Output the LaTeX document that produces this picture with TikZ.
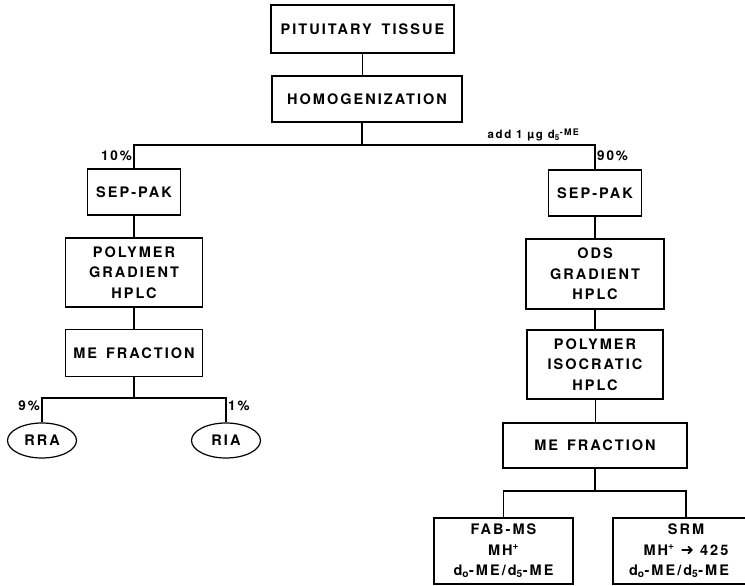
\documentclass[tikz,border=0pt]{standalone}
\usepackage{amsmath}
\usepackage{fontspec}
\setmainfont[LetterSpace=14]{TeX Gyre Heros}
\newfontfamily\dejavu{DejaVu Sans}
\usepackage{tikz}
\usetikzlibrary{positioning,shapes.geometric}

\begin{document}
\begin{tikzpicture}[x=1pt, y=-1pt,
  box/.style={draw, line width=1.2pt, inner sep=0pt, align=center, font=\fontsize{14.5}{20.5}\selectfont\bfseries},
  oval/.style={draw, ellipse, line width=1.2pt, inner sep=0pt, minimum width=69pt, minimum height=35pt, font=\fontsize{14.5}{15}\selectfont\bfseries},
  pct/.style={inner sep=1pt, font=\fontsize{13.5}{14}\selectfont\bfseries},
  conn/.style={line width=1.2pt}
]
\useasboundingbox (0,0) rectangle (745,586);
% top
\node[box, minimum width=183pt, minimum height=48pt] (tissue) at (362.5,29) {PITUITARY\hspace{10pt}TISSUE};
\node[box, minimum width=190pt, minimum height=46pt] (homog) at (367,99) {HOMOGENIZATION};
\coordinate (split) at (362,145);
% left branch
\node[box, minimum width=93pt, minimum height=46pt] (seppakL) at (134,192) {SEP-PAK};
\node[box, minimum width=137pt, minimum height=69pt] (polygrad) at (134,272.5) {POLYMER\\GRADIENT\\HPLC};
\node[box, minimum width=137pt, minimum height=47pt] (mefracL) at (134,353) {ME\hspace{3pt} FRACTION};
\coordinate (splitL) at (134,398);
\node[oval] (rra) at (42,440.5) {RRA};
\node[oval] (ria) at (226,440.5) {RIA};
% right branch
\node[box, minimum width=93pt, minimum height=46pt] (seppakR) at (595,193) {SEP-PAK};
\node[box, minimum width=138pt, minimum height=70pt] (odsgrad) at (595,274) {ODS\\GRADIENT\\HPLC};
\node[box, minimum width=136pt, minimum height=69pt] (polyiso) at (595,364.5) {POLYMER\\ISOCRATIC\\HPLC};
\node[box, minimum width=184pt, minimum height=45pt] (mefracR) at (595,445.5) {ME\hspace{3pt} FRACTION};
\coordinate (splitR) at (595,491);
\node[box, minimum width=139pt, minimum height=66pt] (fabms) at (503.5,551) {FAB-MS\\MH\textsuperscript{+}\\d\textsubscript{o}-ME/d\textsubscript{5}-ME};
\node[box, minimum width=146pt, minimum height=66pt] (srm) at (686,551) {SRM\\MH\textsuperscript{+} {\dejavu\bfseries\fontsize{16}{16}\selectfont ➜} 425\\d\textsubscript{o}-ME/d\textsubscript{5}-ME\hspace*{14pt}};

% connectors
\draw[conn] (tissue) -- (tissue |- homog.north);
\draw[conn] (split |- homog.south) -- (split);
\draw[conn] (seppakL.north) |- (split) -| (seppakR.north);
\draw[conn] (seppakL) -- (polygrad);
\draw[conn] (polygrad) -- (mefracL);
\draw[conn] (mefracL) -- (splitL);
\draw[conn] (rra.north) |- (splitL) -| (ria.north);
\draw[conn] (seppakR) -- (odsgrad);
\draw[conn] (odsgrad) -- (polyiso);
\draw[conn, line width=0.6pt] (polyiso) -- (mefracR);
\draw[conn] (mefracR) -- (splitR);
\draw[conn] (fabms.north) |- (splitR) -| (srm.north);

% labels
\node[pct, anchor=east] (p10) at (133,156) {10\%};
\node[pct, anchor=west] (p90) at (596,156) {90\%};
\node[pct, anchor=east] (p9) at (41,406) {9\%};
\node[pct, anchor=west] (p1) at (227,406) {1\%};
\node[anchor=south east, inner sep=1pt, font=\fontsize{11.5}{12}\selectfont\bfseries] (addstd) at (580,142) {add 1 µg d\textsubscript{5}\raisebox{3pt}{\fontsize{9}{9}\selectfont -ME}};
\end{tikzpicture}
\end{document}
